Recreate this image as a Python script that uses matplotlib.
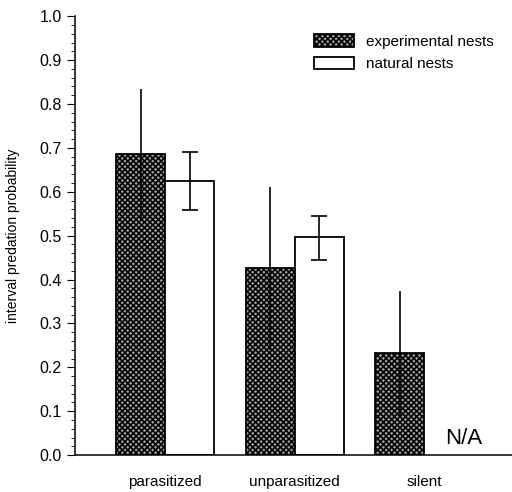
import numpy as np
import matplotlib.pyplot as plt

plt.rcParams['font.family'] = ['Liberation Sans', 'DejaVu Sans']
plt.rcParams['hatch.linewidth'] = 1.1

categories = ['parasitized', 'unparasitized', 'silent']
exp_vals = [0.686, 0.427, 0.232]
exp_lo = [0.535, 0.240, 0.085]
exp_hi = [0.835, 0.612, 0.375]
nat_vals = [0.625, 0.497]
nat_lo = [0.558, 0.445]
nat_hi = [0.690, 0.545]

x = np.arange(len(categories))
w = 0.378

fig = plt.figure(figsize=(5.12, 4.92), dpi=100)
ax = fig.add_axes([0.146, 0.075, 0.854, 0.892])

exp_err = [np.array(exp_vals) - np.array(exp_lo), np.array(exp_hi) - np.array(exp_vals)]
nat_err = [np.array(nat_vals) - np.array(nat_lo), np.array(nat_hi) - np.array(nat_vals)]

ax.bar(x - w / 2, exp_vals, w, facecolor='#9a9a9a', edgecolor='black', hatch='xxxxxx',
       linewidth=1.3, label='experimental nests')
ax.errorbar(x - w / 2, exp_vals, yerr=exp_err, fmt='none', ecolor='black',
            elinewidth=1.2, capsize=0)
ax.bar(x[:2] + w / 2, nat_vals, w, facecolor='white', edgecolor='black',
       linewidth=1.3, label='natural nests')
ax.errorbar(x[:2] + w / 2, nat_vals, yerr=nat_err, fmt='none', ecolor='black',
            elinewidth=1.2, capsize=6, capthick=1.2)

ax.text(x[2] + 0.16, 0.015, 'N/A', fontsize=16, ha='left', va='bottom')

ax.set_xlim(-0.70, 2.68)
ax.set_ylim(0, 1.0)
ax.set_yticks(np.arange(0, 1.01, 0.1))
ax.set_yticks(np.arange(0, 1.001, 0.02), minor=True)
ax.yaxis.set_major_formatter(plt.FormatStrFormatter('%.1f'))
ax.set_xticks(x)
ax.set_xticklabels(categories, fontsize=11)
ax.tick_params(axis='x', length=0, pad=14)
ax.tick_params(axis='y', which='major', length=6, labelsize=11.5)
ax.tick_params(axis='y', which='minor', length=3)
ax.set_ylabel('interval predation probability', fontsize=10, labelpad=14)

for s in ['top', 'right']:
    ax.spines[s].set_visible(False)
ax.spines['left'].set_linewidth(1.1)
ax.spines['bottom'].set_linewidth(1.1)

ax.legend(loc='upper right', frameon=False, fontsize=11, handlelength=2.6,
          handleheight=0.9, bbox_to_anchor=(0.99, 0.99))

fig.savefig('out.png', dpi=100)
